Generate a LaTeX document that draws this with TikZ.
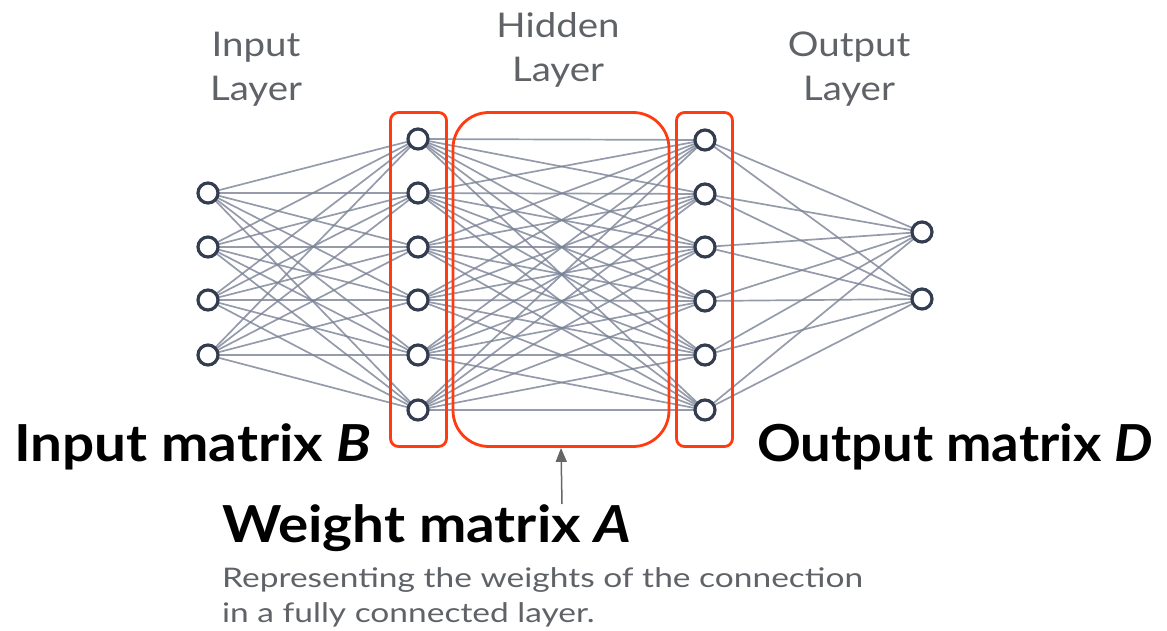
\documentclass[tikz,border=0pt]{standalone}
\usepackage{fontspec}
\setmainfont{Lato}
\newfontfamily\titlefont[FakeStretch=1.11]{Lato}
\newfontfamily\titlefontD[FakeStretch=1.065]{Lato}
\newfontfamily\descfont[FakeStretch=1.24]{Lato}
\newfontfamily\labelfont[FakeStretch=1.13]{Lato}
\usetikzlibrary{arrows.meta,backgrounds}
\definecolor{edgecol}{HTML}{7A8295}
\definecolor{ringcol}{HTML}{343C50}
\definecolor{boxred}{HTML}{FF3B12}
\definecolor{labelgray}{HTML}{5F6368}
\definecolor{arrowgray}{HTML}{666666}
\tikzset{
  neuron/.style={circle, draw=ringcol, line width=3.2pt, fill=white, minimum size=20pt, inner sep=0pt},
  conn/.style={draw=edgecol, line width=1.7pt, opacity=0.8},
  redbox/.style={draw=boxred, line width=2.8pt, inner sep=0pt, rounded corners=8pt},
  layerlabel/.style={text=labelgray, font=\labelfont\fontsize{34}{44}\selectfont, align=center, anchor=north, inner sep=0pt},
  bigtitle/.style={font=\titlefont\fontsize{51}{60}\selectfont\bfseries, anchor=base west, inner sep=0pt},
  desc/.style={text=labelgray, font=\descfont\fontsize{27}{32}\selectfont, anchor=base west, inner sep=0pt},
  pointer/.style={draw=arrowgray, line width=1.5pt, -{Triangle[length=14pt,width=11pt]}}
}
\begin{document}
\begin{tikzpicture}[x=1pt,y=-1pt]
\useasboundingbox (0,0) rectangle (1167,631);
% neurons
\foreach \i/\y in {1/193,2/247,3/300,4/355}
  \node[neuron] (i\i) at (208,\y) {};
\foreach \i/\y in {1/139,2/193,3/247,4/300,5/355,6/410}
  \node[neuron] (h\i) at (418,\y) {};
\foreach \i/\y in {1/140,2/194,3/247,4/301,5/355,6/410}
  \node[neuron] (g\i) at (705,\y) {};
\foreach \i/\y in {1/232,2/299}
  \node[neuron] (o\i) at (922,\y) {};
% connections
\begin{scope}[on background layer]
\foreach \a in {1,...,4} \foreach \b in {1,...,6} \draw[conn] (i\a.center) -- (h\b.center);
\foreach \a in {1,...,6} \foreach \b in {1,...,6} \draw[conn] (h\a.center) -- (g\b.center);
\foreach \a in {1,...,6} \foreach \b in {1,2} \draw[conn] (g\a.center) -- (o\b.center);
\end{scope}
% red boxes
\node[redbox, minimum width=56pt, minimum height=334pt] (bB) at (418.5,279.5) {};
\node[redbox, rounded corners=36pt, minimum width=216pt, minimum height=334pt] (bA) at (561,279.5) {};
\node[redbox, minimum width=56pt, minimum height=334pt] (bD) at (704.5,279.5) {};
% layer labels
\node[layerlabel] (lin) at (256,32) {Input\\Layer};
\node[layerlabel] (lhid) at (558,12) {Hidden\\Layer};
\node[layerlabel] (lout) at (849,32) {Output\\Layer};
% titles
\node[bigtitle] (tB) at (14,461) {Input matrix \textit{B}};
\node[bigtitle, font=\titlefontD\fontsize{51}{60}\selectfont\bfseries] (tD) at (757,461) {Output matrix \textit{D}};
\node[bigtitle] (tA) at (222,542) {Weight matrix \textit{A}};
\node[desc] (d1) at (222,587) {Representing the weights of the connection};
\node[desc] (d2) at (222,622) {in a fully connected layer.};
% pointer
\coordinate (pa) at (562,504);
\draw[pointer] (pa) -- (bA.south);
\end{tikzpicture}
\end{document}
